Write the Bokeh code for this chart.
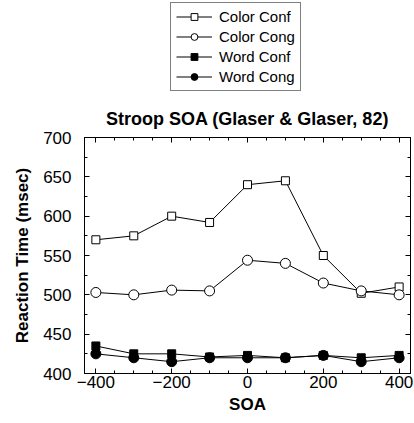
from bokeh.plotting import figure
from bokeh.models import Legend, LegendItem, LinearAxis, FixedTicker, Range1d
from bokeh.layouts import column
from bokeh.embed import file_html
from bokeh.resources import INLINE

# ---- data ----
soa = [-400, -300, -200, -100, 0, 100, 200, 300, 400]
color_conf = [570, 575, 600, 592, 640, 645, 550, 502, 510]
color_cong = [503, 500, 506, 505, 544, 540, 515, 505, 500]
word_conf = [435, 425, 425, 421, 423, 420, 423, 420, 423]
word_cong = [425, 420, 415, 420, 420, 420, 423, 415, 420]

series_names = ["Color Conf", "Color Cong", "Word Conf", "Word Cong"]
series_values = [color_conf, color_cong, word_conf, word_cong]
series_markers = ["square", "circle", "square", "circle"]
series_fills = ["white", "white", "black", "black"]
series_sizes = [8, 10, 8, 10]

x_major = [-400, -200, 0, 200, 400]
x_minor = list(range(-400, 401, 50))
y_major = [400, 450, 500, 550, 600, 650, 700]
y_minor = list(range(400, 701, 25))

FONT = "Liberation Sans"
LEG_H = 96

p = figure(width=414, height=423 - LEG_H, output_backend="svg", toolbar_location=None,
           x_range=Range1d(-430, 430), y_range=Range1d(400, 700),
           x_axis_location=None, y_axis_location=None,
           min_border_left=84, min_border_right=4, min_border_top=137 - LEG_H,
           min_border_bottom=50, title="Stroop SOA (Glaser & Glaser, 82)")
p.title.align = "center"
p.title.text_font = FONT
p.title.text_font_style = "bold"
p.title.text_font_size = "18px"
p.title.text_color = "black"
p.title.standoff = 17
p.xgrid.visible = False
p.ygrid.visible = False
p.outline_line_color = "black"
p.outline_line_width = 1
p.background_fill_color = "white"
p.border_fill_color = "white"


def style_axis(ax, ticks, minor, labels=True):
    ax.ticker = FixedTicker(ticks=ticks, minor_ticks=minor)
    ax.major_tick_in = 5
    ax.major_tick_out = 0
    ax.minor_tick_in = 3
    ax.minor_tick_out = 0
    ax.axis_line_color = "black"
    ax.major_tick_line_color = "black"
    ax.minor_tick_line_color = "black"
    ax.major_label_text_font = FONT
    ax.major_label_text_font_size = "17px"
    ax.major_label_text_color = "black"
    ax.axis_label_text_font = FONT
    ax.axis_label_text_font_style = "bold"
    ax.axis_label_text_font_size = "17px"
    ax.axis_label_text_color = "black"
    if not labels:
        ax.major_label_overrides = {v: "" for v in ticks}
        ax.major_label_text_color = None
        ax.major_label_standoff = 0


xb = LinearAxis(axis_label="SOA")
style_axis(xb, x_major, x_minor)
xb.major_label_standoff = 2
xb.axis_label_standoff = 4
xb.major_label_overrides = {v: ("\u2212" + str(-v) if v < 0 else str(v)) for v in x_major}
p.add_layout(xb, "below")

yl = LinearAxis(axis_label="Reaction Time (msec)")
style_axis(yl, y_major, y_minor)
yl.major_label_standoff = 13
yl.axis_label_standoff = 8
p.add_layout(yl, "left")

xt = LinearAxis()
style_axis(xt, x_major, x_minor, labels=False)
p.add_layout(xt, "above")

yr = LinearAxis()
style_axis(yr, y_major, y_minor, labels=False)
p.add_layout(yr, "right")

for ys, marker, fill, size in zip(series_values, series_markers, series_fills, series_sizes):
    p.line(soa, ys, line_color="black", line_width=1)
    p.scatter(soa, ys, marker=marker, size=size, fill_color=fill,
              line_color="black", line_width=1)

# ---- legend strip above the chart (proxy renderers, hidden) ----
lf = figure(width=414, height=LEG_H, output_backend="svg", toolbar_location=None,
            x_range=Range1d(-430, 430), y_range=Range1d(400, 700),
            x_axis_location=None, y_axis_location=None,
            min_border_left=0, min_border_right=0, min_border_top=0,
            min_border_bottom=0)
lf.title.visible = False
lf.xgrid.visible = False
lf.ygrid.visible = False
lf.outline_line_color = None
lf.background_fill_color = "white"
lf.border_fill_color = "white"

items = []
for name, ys, marker, fill, size in zip(series_names, series_values, series_markers,
                                        series_fills, series_sizes):
    ln = lf.line(soa, ys, line_color="black", line_width=1, visible=False)
    sc = lf.scatter(soa, ys, marker=marker, size=size, fill_color=fill,
                    line_color="black", line_width=1, visible=False)
    items.append(LegendItem(label=name, renderers=[ln, sc]))

legend = Legend(items=items, location=(86, 5), orientation="vertical",
                label_text_font=FONT, label_text_font_size="15px",
                label_text_color="black", glyph_width=36, glyph_height=17,
                label_height=17, label_standoff=7, spacing=3, padding=5,
                margin=0, border_line_color="black", border_line_width=1,
                background_fill_color="white", background_fill_alpha=1,
                inactive_fill_alpha=0)
lf.add_layout(legend, "center")

layout = column(lf, p, spacing=0)
open("out.html", "w").write(file_html(layout, INLINE))
